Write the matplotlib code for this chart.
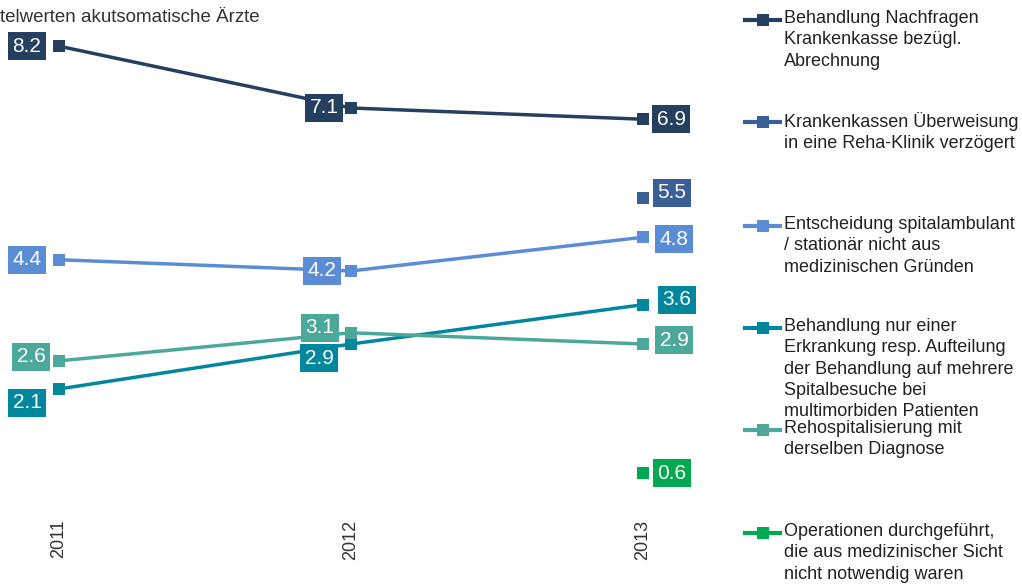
import numpy as np
import matplotlib
matplotlib.use("Agg")
import matplotlib.pyplot as plt
from matplotlib.lines import Line2D

plt.rcParams['font.family'] = ['Liberation Sans', 'DejaVu Sans']

#%% data
years = ["2011", "2012", "2013"]

nachfragen = [8.2, 7.1, 6.9]
ueberweisung = [np.nan, np.nan, 5.5]
entscheidung = [4.4, 4.2, 4.8]
nur_einer = [2.1, 2.9, 3.6]
rehosp = [2.6, 3.1, 2.9]
operationen = [np.nan, np.nan, 0.6]

labels = ["Behandlung Nachfragen\nKrankenkasse bezügl.\nAbrechnung",
          "Krankenkassen Überweisung\nin eine Reha-Klinik verzögert",
          "Entscheidung spitalambulant\n/ stationär nicht aus\nmedizinischen Gründen",
          "Behandlung nur einer\nErkrankung resp. Aufteilung\nder Behandlung auf mehrere\nSpitalbesuche bei\nmultimorbiden Patienten",
          "Rehospitalisierung mit\nderselben Diagnose",
          "Operationen durchgeführt,\ndie aus medizinischer Sicht\nnicht notwendig waren"]

colors = ["#243f60", "#3a5f96", "#5b8dd6", "#00879e", "#4ba89a", "#00a84f"]

title = "telwerten akutsomatische Ärzte"

series = [nachfragen, ueberweisung, entscheidung, nur_einer, rehosp, operationen]

# label box offsets (pixels) per series and year
offsets = [
    [(-32, 0), (-27, 0), (28, 0)],
    [None, None, (29, 5)],
    [(-32, 0), (-29, 0), (31, -2)],
    [(-32, -14), (-32, -14), (34, 5)],
    [(-28, 4), (-31, 5), (31, 4)],
    [None, None, (29, 0)],
]

#%% plot
W, H = 1022, 584
fig = plt.figure(figsize=(W / 100, H / 100), dpi=100)
ax = fig.add_axes([15.2 / W, 77 / H, 671.6 / W, 8.8 * 56.2 / H])
ax.set_xlim(-0.15, 2.15)
ax.set_ylim(0, 8.8)

x = np.arange(len(years))
for ss, vals in enumerate(series):
    ax.plot(x, vals, color=colors[ss], linewidth=2.5, marker='s',
            markersize=9, markeredgewidth=0, zorder=3)
    for ii, v in enumerate(vals):
        if np.isnan(v):
            continue
        dx, dy = offsets[ss][ii]
        ax.annotate(f"{v:.1f}", (x[ii], v), xytext=(dx, dy),
                    textcoords='offset pixels', ha='center', va='center',
                    color='white', fontsize=15, zorder=4,
                    bbox=dict(boxstyle='square,pad=0.22', fc=colors[ss], ec='none'))

for sp in ax.spines.values():
    sp.set_visible(False)
ax.set_yticks([])
ax.set_xticks(x)
ax.set_xticklabels(years, rotation=90, fontsize=13, color='#333333')
ax.tick_params(axis='x', length=0, pad=9)

fig.text(0, 1 - 17 / H, title, ha='left', va='center', fontsize=13.5, color='#333333')

# legend
tops = [20, 122, 226, 328, 430, 533]
for ss, lab in enumerate(labels):
    yy = 1 - tops[ss] / H
    fig.add_artist(Line2D([745 / W, 780 / W], [yy, yy], transform=fig.transFigure,
                          color=colors[ss], linewidth=3))
    fig.add_artist(Line2D([763 / W], [yy], transform=fig.transFigure, color=colors[ss],
                          marker='s', markersize=8, markeredgewidth=0))
    fig.text(784 / W, yy + 10 / H, lab, ha='left', va='top', fontsize=13,
             color='#222222', linespacing=1.33)

fig.savefig("out.png", dpi=100)
